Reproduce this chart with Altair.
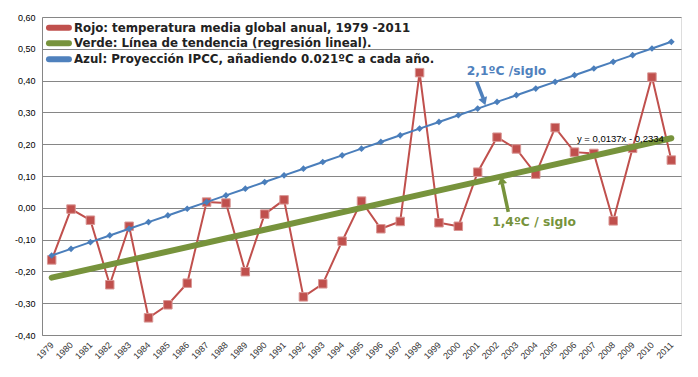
import altair as alt
import pandas as pd

years = list(range(1979, 2012))
rojo = [-0.164, -0.004, -0.039, -0.242, -0.058, -0.346, -0.305, -0.237, 0.018, 0.015,
        -0.201, -0.020, 0.025, -0.280, -0.239, -0.105, 0.021, -0.066, -0.043, 0.425,
        -0.047, -0.058, 0.112, 0.222, 0.185, 0.106, 0.252, 0.175, 0.171, -0.041,
        0.187, 0.411, 0.150]
azul = [-0.150, -0.129, -0.108, -0.087, -0.066, -0.045, -0.024, -0.003, 0.018, 0.039,
        0.060, 0.081, 0.102, 0.123, 0.144, 0.165, 0.186, 0.207, 0.228, 0.249,
        0.270, 0.291, 0.312, 0.333, 0.354, 0.375, 0.396, 0.417, 0.438, 0.459,
        0.480, 0.501, 0.522]
trend_years = [1979, 2011]
trend_vals = [-0.2197, 0.2187]

L_R = "Rojo: temperatura media global anual, 1979 -2011"
L_V = "Verde: Línea de tendencia (regresión lineal)."
L_A = "Azul: Proyección IPCC, añadiendo 0.021ºC a cada año."
series_names = [L_R, L_V, L_A]
series_colors = ["#C0504D", "#77933C", "#4F81BD"]

y_ticks = [-0.4, -0.3, -0.2, -0.1, 0.0, 0.1, 0.2, 0.3, 0.4, 0.5, 0.6]

# legend placement (data coordinates inside the plot)
leg_sym_x = [1978.86, 1978.86, 1978.86]
leg_sym_x2 = [1979.89, 1979.89, 1979.89]
leg_text_x = [1980.15, 1980.15, 1980.15]
leg_y = [0.5664, 0.5173, 0.467]

# annotations (data coordinates)
ann_text = ["2,1ºC /siglo", "1,4ºC / siglo"]
ann_x = [2002.49, 2003.91]
ann_y = [0.431, -0.045]
ann_color = ["#4F81BD", "#77933C"]

arrow_x = [2000.95, 2002.58]
arrow_y = [0.397, -0.013]
arrow_x2 = [2001.28, 2002.27]
arrow_y2 = [0.345, 0.075]
head_x = [2001.33, 2002.24]
head_y = [0.334, 0.087]
head_shape = ["triangle-down", "triangle-up"]
head_angle = [340, 348]

eq_text = ["y = 0,0137x - 0,2334"]
eq_x = [2008.37]
eq_y = [0.215]

df_r = pd.DataFrame({"year": years, "val": rojo})
df_a = pd.DataFrame({"year": years, "val": azul})
df_v = pd.DataFrame({"year": trend_years, "val": trend_vals})
df_leg = pd.DataFrame({"x": leg_sym_x, "x2": leg_sym_x2, "tx": leg_text_x, "y": leg_y,
                       "t": series_names, "c": series_colors})
df_ann = pd.DataFrame({"t": ann_text, "x": ann_x, "y": ann_y, "c": ann_color})
df_arr = pd.DataFrame({"x": arrow_x, "y": arrow_y, "x2": arrow_x2, "y2": arrow_y2,
                       "hx": head_x, "hy": head_y, "shape": head_shape,
                       "ang": head_angle, "c": ann_color})
df_eq = pd.DataFrame({"t": eq_text, "x": eq_x, "y": eq_y})

xscale = alt.Scale(domain=[1978.5, 2011.5], nice=False, zero=False)
yscale = alt.Scale(domain=[-0.4, 0.6], nice=False, zero=False)

xaxis = alt.Axis(values=years, format="d", labelAngle=315, labelFontSize=9,
                 labelFont="Liberation Sans", labelColor="#333333", ticks=False,
                 grid=False, domainColor="#868686", labelPadding=8, title=None,
                 labelOverlap=False, labelFlush=False, labelAlign="right",
                 labelBaseline="middle")
yaxis = alt.Axis(values=y_ticks, format=".2f", grid=True, gridColor="#868686",
                 domainColor="#868686", ticks=False, labelFont="Liberation Sans",
                 labelFontSize=9, labelColor="#000000", labelPadding=7, title=None,
                 labelOverlap=False)


def X(f):
    return alt.X(f, type="quantitative", scale=xscale, axis=xaxis)


def Y(f):
    return alt.Y(f, type="quantitative", scale=yscale, axis=yaxis)


red_line = alt.Chart(df_r).mark_line(strokeWidth=2, color="#C0504D").encode(
    x=X("year"), y=Y("val"))
red_pts = alt.Chart(df_r).mark_point(shape="square", filled=True, size=72, opacity=1,
                                     fill="#C0504D", stroke="#D99795",
                                     strokeWidth=1).encode(x=X("year"), y=Y("val"))
green_line = alt.Chart(df_v).mark_line(strokeWidth=6, strokeCap="round",
                                       color="#77933C").encode(x=X("year"), y=Y("val"))
blue_line = alt.Chart(df_a).mark_line(strokeWidth=2, color="#4A7EBB").encode(
    x=X("year"), y=Y("val"))
blue_pts = alt.Chart(df_a).mark_point(shape="diamond", filled=True, size=45,
                                      opacity=1, fill="#4A7EBB").encode(
    x=X("year"), y=Y("val"))

leg_sym = alt.Chart(df_leg).mark_rule(strokeWidth=6, strokeCap="round").encode(
    x=X("x"), x2="x2:Q", y=Y("y"), color=alt.Color("c:N", scale=None))
leg_txt = alt.Chart(df_leg).mark_text(font="DejaVu Sans", fontWeight="bold",
                                      fontSize=11.8, align="left", baseline="middle",
                                      color="#222222").encode(
    x=X("tx"), y=Y("y"), text="t:N")

ann = alt.Chart(df_ann).mark_text(font="DejaVu Sans", fontWeight="bold",
                                  fontSize=12.3, align="center", baseline="middle").encode(
    x=X("x"), y=Y("y"), text="t:N", color=alt.Color("c:N", scale=None))
arr = alt.Chart(df_arr).mark_rule(strokeWidth=3.5).encode(
    x=X("x"), y=Y("y"), x2="x2:Q", y2="y2:Q", color=alt.Color("c:N", scale=None))
heads = alt.Chart(df_arr).mark_point(filled=True, size=85, opacity=1).encode(
    x=X("hx"), y=Y("hy"),
    shape=alt.Shape("shape:N", scale=None), angle=alt.Angle("ang:Q", scale=None),
    fill=alt.Color("c:N", scale=None))
eq = alt.Chart(df_eq).mark_text(font="Liberation Sans", fontSize=9.5, color="#000000",
                                align="center", baseline="middle").encode(
    x=X("x"), y=Y("y"), text="t:N")

chart = alt.layer(red_line, red_pts, green_line, blue_line, blue_pts,
                  arr, heads, ann, eq, leg_sym, leg_txt).properties(
    width=639, height=318,
    autosize=alt.AutoSizeParams(type="none"),
    padding={"left": 42, "top": 17, "right": 17, "bottom": 42},
    background="#ffffff",
).configure_view(stroke="#868686").configure(
    locale={"number": {"decimal": ",", "thousands": ".", "grouping": [3],
                       "currency": ["", "€"], "minus": "-"}}
)

chart.save("out.html", embed_options={"renderer": "svg", "actions": False})
